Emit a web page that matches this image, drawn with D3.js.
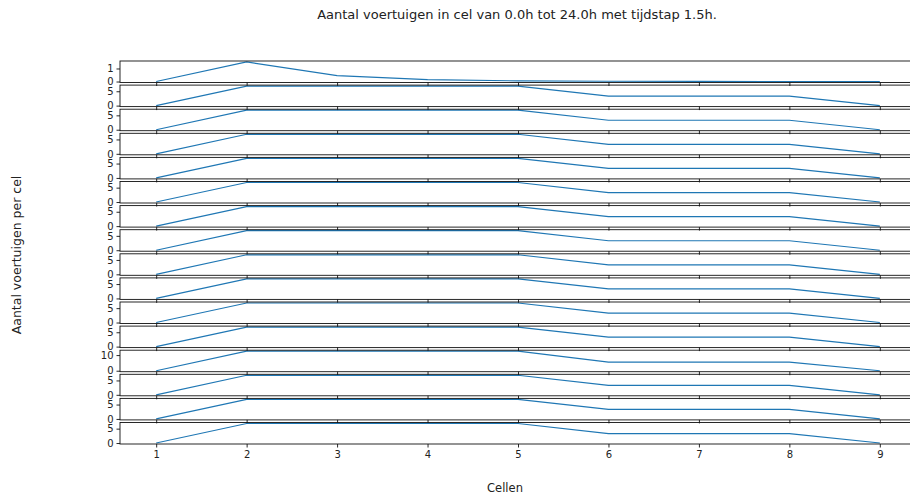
<!DOCTYPE html>
<html>
<head>
<meta charset="utf-8">
<script src="https://cdn.jsdelivr.net/npm/d3@7"></script>
<style>
  html, body { margin: 0; padding: 0; background: #fff; }
  svg { display: block; }
  text { font-family: "DejaVu Sans", sans-serif; fill: #222; }
</style>
</head>
<body>
<svg id="chart" width="910" height="497"></svg>
<script>
// Cell numbers along the road
const cells = [1, 2, 3, 4, 5, 6, 7, 8, 9];

// Vehicle count per cell, one array per time step (0.0h .. 22.5h, step 1.5h)
const step00 = [0, 1.5, 0.45, 0.15, 0.05, 0.02, 0.01, 0, 0];
const step01 = [0, 6.8, 6.8, 6.8, 6.8, 3.3, 3.3, 3.3, 0];
const step02 = [0, 6.8, 6.8, 6.8, 6.8, 3.3, 3.3, 3.3, 0];
const step03 = [0, 6.8, 6.8, 6.8, 6.8, 3.3, 3.3, 3.3, 0];
const step04 = [0, 6.8, 6.8, 6.8, 6.8, 3.3, 3.3, 3.3, 0];
const step05 = [0, 6.8, 6.8, 6.8, 6.8, 3.3, 3.3, 3.3, 0];
const step06 = [0, 6.8, 6.8, 6.8, 6.8, 3.3, 3.3, 3.3, 0];
const step07 = [0, 6.8, 6.8, 6.8, 6.8, 3.3, 3.3, 3.3, 0];
const step08 = [0, 6.8, 6.8, 6.8, 6.8, 3.3, 3.3, 3.3, 0];
const step09 = [0, 6.8, 6.8, 6.8, 6.8, 3.3, 3.3, 3.3, 0];
const step10 = [0, 6.8, 6.8, 6.8, 6.8, 3.3, 3.3, 3.3, 0];
const step11 = [0, 6.8, 6.8, 6.8, 6.8, 3.3, 3.3, 3.3, 0];
const step12 = [0, 12.5, 12.5, 12.5, 12.5, 5.5, 5.5, 5.5, 0];
const step13 = [0, 6.8, 6.8, 6.8, 6.8, 3.3, 3.3, 3.3, 0];
const step14 = [0, 6.8, 6.8, 6.8, 6.8, 3.3, 3.3, 3.3, 0];
const step15 = [0, 6.8, 6.8, 6.8, 6.8, 3.3, 3.3, 3.3, 0];

const steps = [step00, step01, step02, step03, step04, step05, step06, step07,
               step08, step09, step10, step11, step12, step13, step14, step15];

// y tick values for each panel
const yTickSets = [[0, 1], [0, 5], [0, 5], [0, 5], [0, 5], [0, 5], [0, 5], [0, 5],
                   [0, 5], [0, 5], [0, 5], [0, 5], [0, 10], [0, 5], [0, 5], [0, 5]];

const titleText = "Aantal voertuigen in cel van 0.0h tot 24.0h met tijdstap 1.5h.";
const xLabelText = "Cellen";
const yLabelText = "Aantal voertuigen per cel";

const svg = d3.select("#chart");

// Panel geometry
const left = 120, right = 916;
const top0 = 61, pitch = 24.1, panelH = 21.5;

const x = d3.scaleLinear().domain([0.6, 9.4]).range([left, right]);

steps.forEach((vals, i) => {
  const yTop = top0 + i * pitch;
  const ext = d3.extent(vals);
  const pad = (ext[1] - ext[0]) * 0.05;
  const y = d3.scaleLinear().domain([ext[0] - pad, ext[1] + pad]).range([yTop + panelH, yTop]);

  const g = svg.append("g");

  // data line
  g.append("path")
    .datum(vals)
    .attr("fill", "none")
    .attr("stroke", "#1f77b4")
    .attr("stroke-width", 1.2)
    .attr("d", d3.line().x((d, j) => x(cells[j])).y(d => y(d)));

  // frame
  g.append("rect")
    .attr("x", left).attr("y", yTop)
    .attr("width", right - left).attr("height", panelH)
    .attr("fill", "none").attr("stroke", "#111").attr("stroke-width", 0.9);

  // x axis (labels only on the last panel)
  const last = i === steps.length - 1;
  const xa = g.append("g")
    .attr("transform", `translate(0,${yTop + panelH})`)
    .call(d3.axisBottom(x).tickValues(cells).tickSize(3.5).tickPadding(3.5)
      .tickFormat(last ? d3.format("d") : () => ""));
  xa.select(".domain").remove();
  xa.selectAll("line").attr("stroke", "#111").attr("stroke-width", 0.9);
  xa.selectAll("text").style("font-size", "10px").style("font-family", "DejaVu Sans");

  // y axis
  const ya = g.append("g")
    .attr("transform", `translate(${left},0)`)
    .call(d3.axisLeft(y).tickValues(yTickSets[i]).tickSize(3.5).tickPadding(3)
      .tickFormat(d3.format("d")));
  ya.select(".domain").remove();
  ya.selectAll("line").attr("stroke", "#111").attr("stroke-width", 0.9);
  ya.selectAll("text").style("font-size", "10px").style("font-family", "DejaVu Sans");
});

// titles
svg.append("text")
  .attr("x", 517).attr("y", 19)
  .attr("text-anchor", "middle")
  .style("font-size", "13px")
  .text(titleText);

svg.append("text")
  .attr("x", 505).attr("y", 492)
  .attr("text-anchor", "middle")
  .style("font-size", "11.5px")
  .text(xLabelText);

svg.append("text")
  .attr("transform", "translate(21,255) rotate(-90)")
  .attr("text-anchor", "middle")
  .style("font-size", "12.5px")
  .text(yLabelText);
</script>
</body>
</html>
